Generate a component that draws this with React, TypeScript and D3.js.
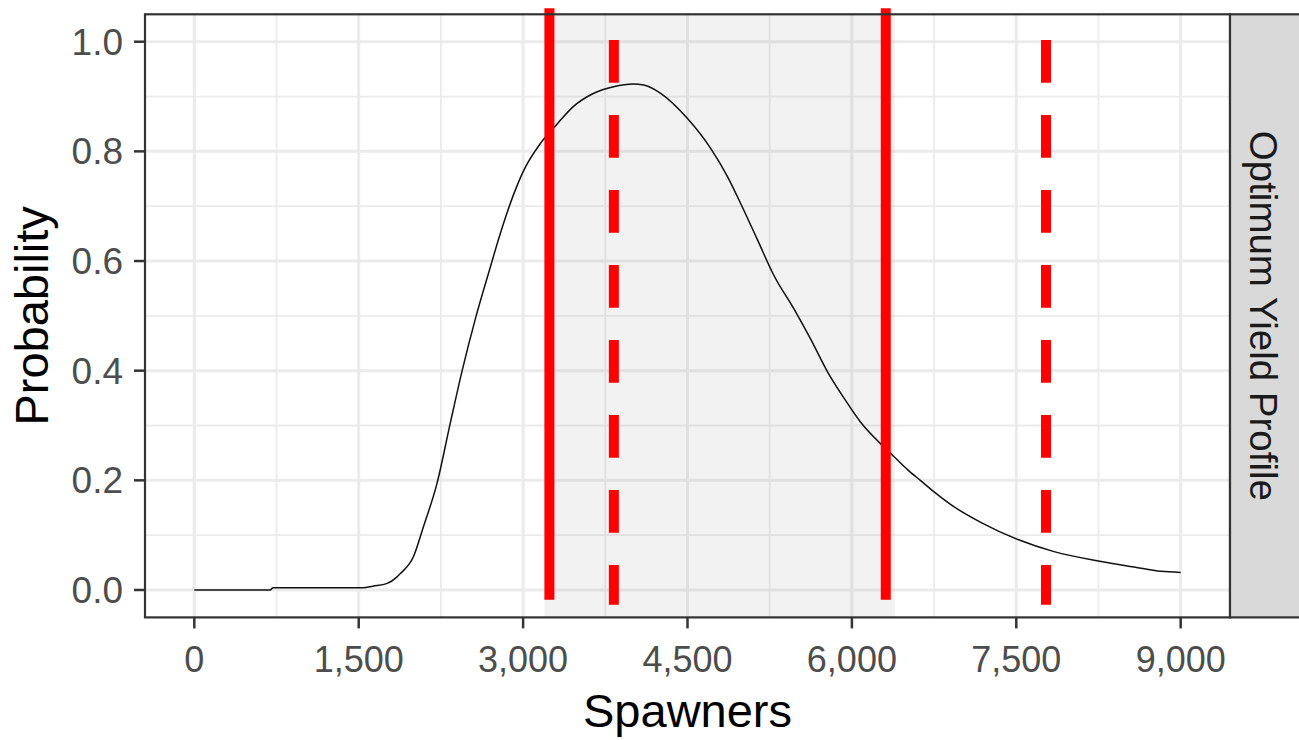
import React, { useEffect, useRef } from 'react';
import * as d3 from 'd3';

// curve
const spawners = [
  0, 690, 720, 1540, 1630, 1760, 1850, 1880, 2000, 2090, 2215, 2335, 2445, 2565, 2685,
  2795, 2905, 3005, 3160, 3315, 3460, 3645, 3825, 4005, 4100, 4255, 4500, 4710, 4865,
  4985, 5140, 5285, 5470, 5625, 5780, 5925, 6080, 6265, 6385, 6510, 6630, 6750,
  6930, 7180, 7515, 7845, 8275, 8575, 8820, 9000
];
const probability = [
  0.0, 0.0, 0.004, 0.004, 0.007, 0.012, 0.024, 0.03, 0.061, 0.115, 0.195, 0.304, 0.401,
  0.495, 0.578, 0.652, 0.717, 0.765, 0.815, 0.851, 0.882, 0.906, 0.918, 0.923, 0.921, 0.906,
  0.86, 0.806, 0.754, 0.705, 0.638, 0.575, 0.513, 0.457, 0.397, 0.351, 0.306, 0.266,
  0.243, 0.219, 0.199, 0.179, 0.152, 0.123, 0.092, 0.07, 0.052, 0.042, 0.034, 0.032
];

const solidLines = [3240, 6309];
const solidYRange = [-0.018, 1.061];
const dashedLines = [3828, 7771];
const dashedYRange = [-0.027, 1.003];
const shadeRange = [3195, 6392];

const xTicks = [0, 1500, 3000, 4500, 6000, 7500, 9000];
const xMinor = [750, 2250, 3750, 5250, 6750, 8250];
const yTicks = [0, 0.2, 0.4, 0.6, 0.8, 1.0];
const yMinor = [0.1, 0.3, 0.5, 0.7, 0.9];
const stripLabel = 'Optimum Yield Profile';

const FONT = '"Liberation Sans", Arial, sans-serif';

const App = () => {
  const svgRef = useRef<SVGSVGElement>(null);

  useEffect(() => {
    document.body.style.margin = '0';
    const svg = d3.select(svgRef.current);
    svg.selectAll('*').remove();

    const left = 145, right = 1230, top = 14.3, bottom = 617.4;

    const x = d3.scaleLinear().domain([-450, 9450]).range([left, right]);
    const y = d3.scaleLinear().domain([-0.05, 1.05]).range([bottom, top]);

    // panel background
    svg.append('rect')
      .attr('x', left).attr('y', top)
      .attr('width', right - left).attr('height', bottom - top)
      .attr('fill', 'white');

    // grid
    const grid = svg.append('g').attr('stroke', '#EBEBEB');
    grid.selectAll('.xminor').data(xMinor).enter().append('line')
      .attr('x1', d => x(d)).attr('x2', d => x(d))
      .attr('y1', top).attr('y2', bottom).attr('stroke-width', 1.8);
    grid.selectAll('.yminor').data(yMinor).enter().append('line')
      .attr('y1', d => y(d)).attr('y2', d => y(d))
      .attr('x1', left).attr('x2', right).attr('stroke-width', 1.8);
    grid.selectAll('.xmajor').data(xTicks).enter().append('line')
      .attr('x1', d => x(d)).attr('x2', d => x(d))
      .attr('y1', top).attr('y2', bottom).attr('stroke-width', 3);
    grid.selectAll('.ymajor').data(yTicks).enter().append('line')
      .attr('y1', d => y(d)).attr('y2', d => y(d))
      .attr('x1', left).attr('x2', right).attr('stroke-width', 3);

    // shaded band
    svg.append('rect')
      .attr('x', x(shadeRange[0])).attr('y', top)
      .attr('width', x(shadeRange[1]) - x(shadeRange[0]))
      .attr('height', bottom - top)
      .attr('fill', '#7f7f7f').attr('fill-opacity', 0.1);

    // curve
    const pts = spawners.map((s, i) => [s, probability[i]] as [number, number]);
    const line = d3.line<[number, number]>()
      .x(d => x(d[0]))
      .y(d => y(d[1]))
      .curve(d3.curveMonotoneX);
    svg.append('path')
      .datum(pts)
      .attr('fill', 'none')
      .attr('stroke', '#111')
      .attr('stroke-width', 1.5)
      .attr('d', line);

    // red lines
    svg.selectAll('.solid').data(solidLines).enter().append('line')
      .attr('x1', d => x(d)).attr('x2', d => x(d))
      .attr('y1', y(solidYRange[1])).attr('y2', y(solidYRange[0]))
      .attr('stroke', '#FF0000').attr('stroke-width', 10);
    svg.selectAll('.dashed').data(dashedLines).enter().append('line')
      .attr('x1', d => x(d)).attr('x2', d => x(d))
      .attr('y1', y(dashedYRange[1])).attr('y2', y(dashedYRange[0]))
      .attr('stroke', '#FF0000').attr('stroke-width', 10)
      .attr('stroke-dasharray', '42.7,32.3');

    // panel border
    svg.append('rect')
      .attr('x', left).attr('y', top)
      .attr('width', right - left).attr('height', bottom - top)
      .attr('fill', 'none').attr('stroke', '#333333').attr('stroke-width', 2.2);

    // strip
    svg.append('rect')
      .attr('x', right).attr('y', top)
      .attr('width', 80).attr('height', bottom - top)
      .attr('fill', '#D9D9D9').attr('stroke', '#333333').attr('stroke-width', 2.2);
    svg.append('text')
      .attr('transform', `translate(1250,${(top + bottom) / 2}) rotate(90)`)
      .attr('text-anchor', 'middle')
      .style('font-family', FONT)
      .style('font-size', '38.5px')
      .style('fill', '#1A1A1A')
      .text(stripLabel);

    // x axis
    const xa = svg.append('g');
    xa.selectAll('line').data(xTicks).enter().append('line')
      .attr('x1', d => x(d)).attr('x2', d => x(d))
      .attr('y1', bottom).attr('y2', bottom + 11)
      .attr('stroke', '#333333').attr('stroke-width', 2.5);
    xa.selectAll('text').data(xTicks).enter().append('text')
      .attr('x', d => x(d)).attr('y', 672)
      .attr('text-anchor', 'middle')
      .style('font-family', FONT).style('font-size', '36px').style('fill', '#4D4D4D')
      .text(d => d3.format(',')(d));

    // y axis
    const ya = svg.append('g');
    ya.selectAll('line').data(yTicks).enter().append('line')
      .attr('x1', left - 11).attr('x2', left)
      .attr('y1', d => y(d)).attr('y2', d => y(d))
      .attr('stroke', '#333333').attr('stroke-width', 2.5);
    ya.selectAll('text').data(yTicks).enter().append('text')
      .attr('x', 123).attr('y', d => y(d) + 13)
      .attr('text-anchor', 'end')
      .style('font-family', FONT).style('font-size', '37px').style('fill', '#4D4D4D')
      .text(d => d3.format('.1f')(d));

    // titles
    svg.append('text')
      .attr('x', (left + right) / 2).attr('y', 727)
      .attr('text-anchor', 'middle')
      .style('font-family', FONT).style('font-size', '47px').style('fill', 'black')
      .text('Spawners');
    svg.append('text')
      .attr('transform', `translate(48,${(top + bottom) / 2}) rotate(-90)`)
      .attr('text-anchor', 'middle')
      .style('font-family', FONT).style('font-size', '47px').style('fill', 'black')
      .text('Probability');
  }, []);

  return (
    <svg ref={svgRef} width={1299} height={740} style={{ display: 'block', background: 'white' }} />
  );
};

export default App;
